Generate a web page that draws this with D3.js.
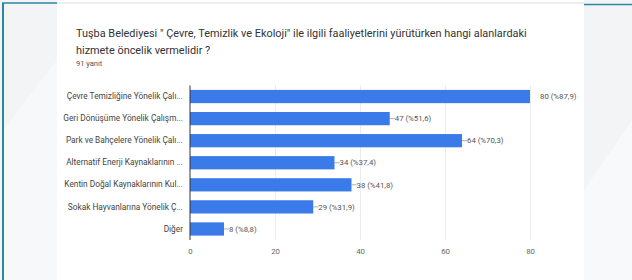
<!DOCTYPE html>
<html>
<head>
<meta charset="utf-8">
<script src="https://cdn.jsdelivr.net/npm/d3@7"></script>
<style>
  html, body { margin: 0; padding: 0; background: #f3f4f5; }
  svg { display: block; font-family: Roboto, "Noto Sans", Arial, sans-serif; }
</style>
</head>
<body>
<svg id="chart" width="632" height="280"></svg>
<script>
// chart data
const categories = [
  "Çevre Temizliğine Yönelik Çalı...",
  "Geri Dönüşüme Yönelik Çalışm...",
  "Park ve Bahçelere Yönelik Çalı...",
  "Alternatif Enerji Kaynaklarının ...",
  "Kentin Doğal Kaynaklarının Kul...",
  "Sokak Hayvanlarına Yönelik Ç...",
  "Diğer"
];
const counts = [80, 47, 64, 34, 38, 29, 8];
const percentLabels = ["%87,9", "%51,6", "%70,3", "%37,4", "%41,8", "%31,9", "%8,8"];
const xTicks = [0, 20, 40, 60, 80];
const titleLines = [
  "Tuşba Belediyesi \" Çevre, Temizlik ve Ekoloji\" ile ilgili faaliyetlerini yürütürken hangi alanlardaki",
  "hizmete öncelik vermelidir ?"
];
const responses = "91 yanıt";

const width = 632;
const height = 280;
const svg = d3.select('#chart');

// background slide bits
svg.append('rect').attr('width', width).attr('height', height).attr('fill', '#f3f4f5');
svg.append('path')
  .attr('d', 'M584,190 L632,120 L632,280 L584,280 Z')
  .attr('fill', '#f8f9fa');
svg.append('path')
  .attr('d', 'M3,130 L57,60 L57,280 L3,280 Z')
  .attr('fill', '#f7f8f9');

// white card
svg.append('rect')
  .attr('x', 57).attr('y', 0)
  .attr('width', 527).attr('height', height)
  .attr('fill', '#ffffff');

// teal frame lines
svg.append('line').attr('x1', 3).attr('x2', 3).attr('y1', 3).attr('y2', height)
  .attr('stroke', '#2b87a3').attr('stroke-width', 2);
svg.append('line').attr('x1', 2).attr('x2', 57).attr('y1', 3).attr('y2', 3)
  .attr('stroke', '#2b87a3').attr('stroke-width', 1.5);
svg.append('line').attr('x1', 57).attr('x2', 584).attr('y1', 3).attr('y2', 3)
  .attr('stroke', '#d4dde0').attr('stroke-width', 1);
svg.append('line').attr('x1', 584).attr('x2', width).attr('y1', 4.5).attr('y2', 4.5)
  .attr('stroke', '#2b87a3').attr('stroke-width', 1.5);

// title
const title = svg.append('g');
titleLines.forEach((t, i) => {
  title.append('text')
    .attr('x', 76).attr('y', 37 + i * 16.5)
    .attr('font-size', 10.9)
    .attr('fill', '#333')
    .text(t);
});
title.append('text')
  .attr('x', 76).attr('y', 66)
  .attr('font-size', 7.5)
  .attr('fill', '#555')
  .text(responses);

// scales
const xScale = d3.scaleLinear().domain([0, 80]).range([190, 530]);
const yScale = d3.scaleBand()
  .domain(categories)
  .range([85.5, 240])
  .paddingInner(0.4)
  .paddingOuter(0.2);

// gridlines
svg.append('g')
  .attr('transform', `translate(0, 240)`)
  .call(d3.axisBottom(xScale).tickValues(xTicks.slice(1)).tickFormat('').tickSize(-(240 - 85)))
  .call(g => g.select('.domain').remove())
  .call(g => g.selectAll('line').attr('stroke', '#ececec'));

// bars
svg.append('g')
  .selectAll('rect')
  .data(counts)
  .join('rect')
  .attr('x', xScale(0))
  .attr('y', (d, i) => yScale(categories[i]))
  .attr('width', d => xScale(d) - xScale(0))
  .attr('height', yScale.bandwidth())
  .attr('fill', '#3a7ae9');

// value labels with leader lines
const vals = svg.append('g');
counts.forEach((d, i) => {
  const cy = yScale(categories[i]) + yScale.bandwidth() / 2;
  if (d !== 80) {
    vals.append('line')
      .attr('x1', xScale(d)).attr('x2', xScale(d) + 5)
      .attr('y1', cy).attr('y2', cy)
      .attr('stroke', '#999').attr('stroke-width', 0.8);
  }
  vals.append('text')
    .attr('x', xScale(d) + (d === 80 ? 10 : 5))
    .attr('y', cy)
    .attr('dy', '0.35em')
    .attr('font-size', 7.8)
    .attr('fill', '#555')
    .text(`${d} (${percentLabels[i]})`);
});

// category axis
const yAxis = svg.append('g')
  .attr('transform', `translate(${xScale(0)}, 0)`)
  .call(d3.axisLeft(yScale).tickSize(0).tickPadding(7));
yAxis.select('.domain').attr('stroke', '#333').attr('stroke-width', 1)
  .attr('d', `M0,85.5V240`);
yAxis.selectAll('text').attr('font-size', 8.3).attr('fill', '#444')
  .attr('font-family', 'Roboto, "Noto Sans", Arial, sans-serif');

// x axis labels
const xAxis = svg.append('g')
  .attr('transform', `translate(0, 240)`)
  .call(d3.axisBottom(xScale).tickValues(xTicks).tickSize(0).tickPadding(8));
xAxis.select('.domain').remove();
xAxis.selectAll('text').attr('font-size', 7.8).attr('fill', '#666')
  .attr('font-family', 'Roboto, "Noto Sans", Arial, sans-serif');
</script>
</body>
</html>
